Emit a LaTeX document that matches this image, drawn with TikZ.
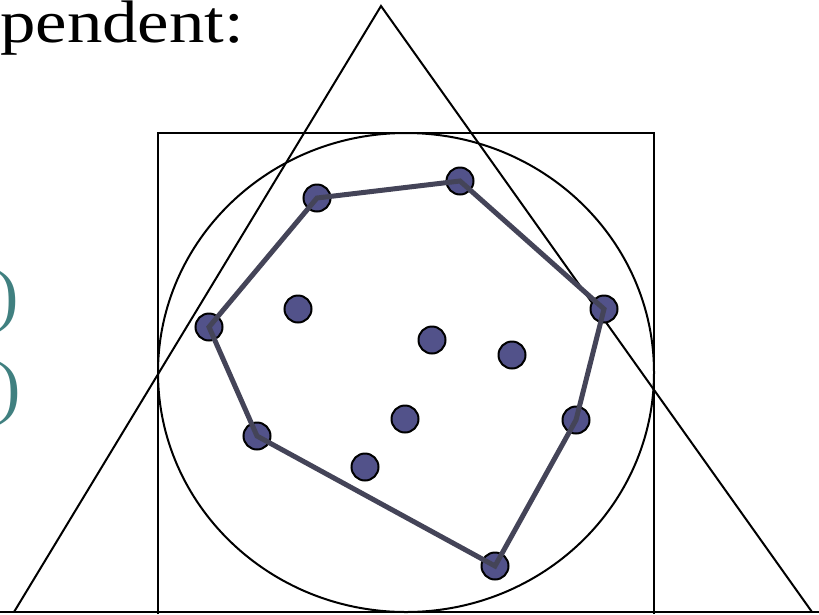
\documentclass[tikz,border=0pt]{standalone}
\usepackage{fontspec}
\setmainfont{Liberation Serif}
\definecolor{tealc}{RGB}{64,128,128}
\definecolor{ptfill}{RGB}{82,82,138}
\definecolor{hullc}{RGB}{68,68,88}
\begin{document}
\begin{tikzpicture}[x=1pt,y=-1pt,
  pt/.style={circle,draw=black,line width=2pt,fill=ptfill,minimum size=27pt,inner sep=0pt},
  outline/.style={line width=2pt},
  hullline/.style={draw=hullc,line width=5pt,line join=miter},
  big/.style={font=\fontsize{60}{66}\selectfont,inner sep=0pt},
  paren/.style={font=\fontsize{70}{76}\selectfont,inner sep=0pt,text=tealc}]
\useasboundingbox (0,0) rectangle (819,614);
\clip (0,0) rectangle (819,614);
\node[big,anchor=base west,xscale=1.18] (title) at (0,42) {pendent:};
\node[paren,anchor=base east] (p1) at (19,318) {)};
\node[paren,anchor=base east] (p2) at (21,410) {)};
\coordinate (ta) at (381,6);
\coordinate (tl) at (14,612);
\coordinate (tr) at (812,612);
\coordinate (bl) at (0,612);
\coordinate (br) at (819,612);
\draw[outline] (tl) -- (ta) -- (tr);
\draw[outline] (bl) -- (br);
\draw[outline] (158,614) -- (158,133) -- (654,133) -- (654,614);
\draw[outline] (406,372.5) ellipse [x radius=248, y radius=239.5];
\node[pt] (a) at (317,198) {};
\node[pt] (b) at (460,181) {};
\node[pt] (c) at (604,309) {};
\node[pt] (d) at (576,420) {};
\node[pt] (e) at (495,566) {};
\node[pt] (f) at (257,436) {};
\node[pt] (g) at (209,327) {};
\node[pt] (h) at (298,309) {};
\node[pt] (i) at (432,340) {};
\node[pt] (j) at (512,355) {};
\node[pt] (k) at (405,419) {};
\node[pt] (l) at (365,467) {};
\draw[hullline] (a.center) -- (b.center) -- (c.center) -- (d.center) -- (e.center) -- (f.center) -- (g.center) -- cycle;
\end{tikzpicture}
\end{document}
